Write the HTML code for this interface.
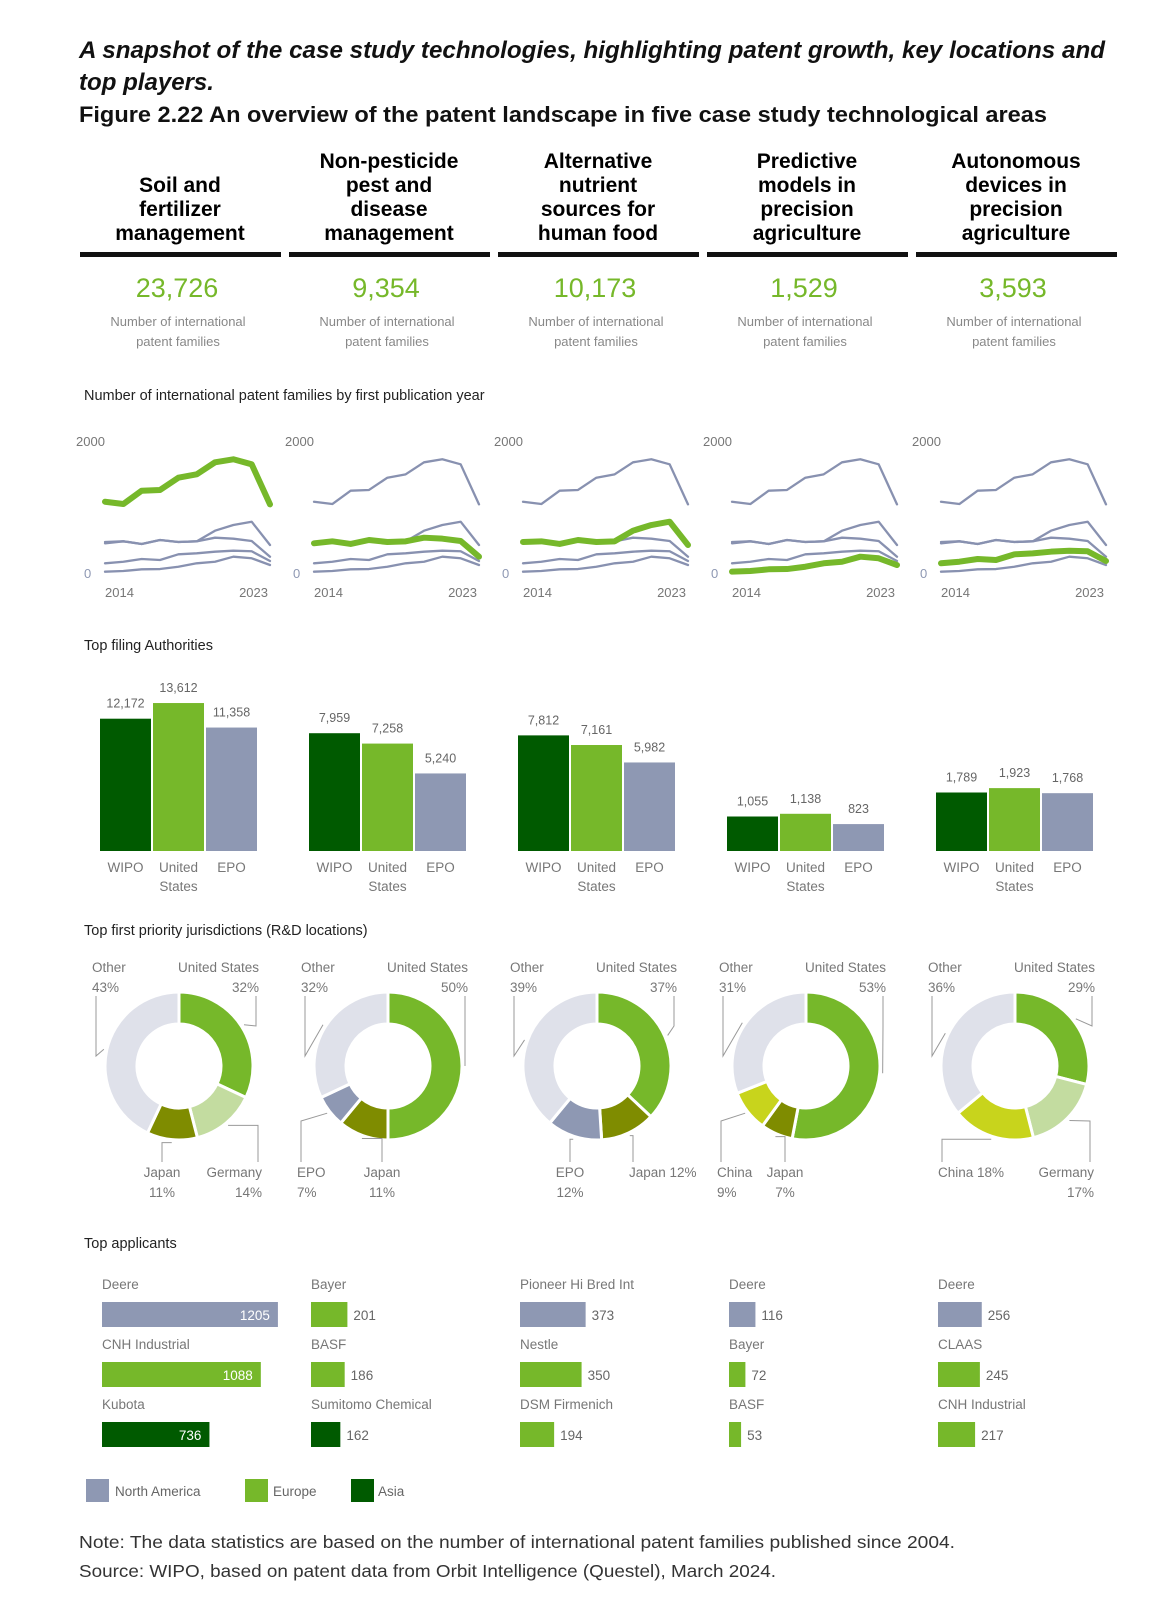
<!DOCTYPE html>
<html><head><meta charset="utf-8"><style>
body{margin:0;background:#fff;width:1174px;height:1620px;overflow:hidden;font-family:"Liberation Sans",sans-serif;}
svg{position:absolute;left:0;top:0}
</style></head><body>
<svg id="s" width="1174" height="1620">
<text x="79" y="58" font-size="24" font-style="italic" font-weight="bold" fill="#111" textLength="1026" lengthAdjust="spacingAndGlyphs">A snapshot of the case study technologies, highlighting patent growth, key locations and</text>
<text x="79" y="90" font-size="24" font-style="italic" font-weight="bold" fill="#111" textLength="135" lengthAdjust="spacingAndGlyphs">top players.</text>
<text x="79" y="122" font-size="22" font-weight="bold" fill="#111" textLength="968" lengthAdjust="spacingAndGlyphs">Figure 2.22 An overview of the patent landscape in five case study technological areas</text>
<text x="84" y="400" font-size="14.5" fill="#222">Number of international patent families by first publication year</text>
<text x="84" y="650" font-size="14.5" fill="#222">Top filing Authorities</text>
<text x="84" y="935" font-size="14.5" fill="#222">Top first priority jurisdictions (R&amp;D locations)</text>
<text x="84" y="1248" font-size="14.5" fill="#222">Top applicants</text>
<g>
<rect x="86" y="1479" width="23" height="23" fill="#8e98b3"/>
<text x="115" y="1496" font-size="13.5" fill="#666">North America</text>
<rect x="245" y="1479" width="23" height="23" fill="#76b82a"/>
<text x="273" y="1496" font-size="13.5" fill="#666">Europe</text>
<rect x="351" y="1479" width="23" height="23" fill="#005a00"/>
<text x="378" y="1496" font-size="13.5" fill="#666">Asia</text>
</g>
<text x="79" y="1548" font-size="17.5" fill="#333" textLength="876" lengthAdjust="spacingAndGlyphs">Note: The data statistics are based on the number of international patent families published since 2004.</text>
<text x="79" y="1577" font-size="17.5" fill="#333" textLength="697" lengthAdjust="spacingAndGlyphs">Source: WIPO, based on patent data from Orbit Intelligence (Questel), March 2024.</text>
</svg>
<script>
const techNames=[["Soil and","fertilizer","management"],["Non-pesticide","pest and","disease","management"],["Alternative","nutrient","sources for","human food"],["Predictive","models in","precision","agriculture"],["Autonomous","devices in","precision","agriculture"]];
const totals=["23,726","9,354","10,173","1,529","3,593"];
const years=[2014,2015,2016,2017,2018,2019,2020,2021,2022,2023];
const seriesSoil=[1080,1045,1247,1258,1444,1495,1677,1723,1647,1040];
const seriesPest=[450,480,440,500,470,480,535,520,485,247];
const seriesNutrient=[470,480,440,500,470,480,641,727,777,424];
const seriesPredictive=[20,30,56,60,95,147,171,247,223,121];
const seriesAutonomous=[147,171,212,197,283,298,323,338,329,182];
const allSeries=[seriesSoil,seriesPest,seriesNutrient,seriesPredictive,seriesAutonomous];
const lineMax=2000;
const authorities=["WIPO","United States","EPO"];
const authValues=[[12172,13612,11358],[7959,7258,5240],[7812,7161,5982],[1055,1138,823],[1789,1923,1768]];
const authAxisMax=[13800,10135,10135,4587,4587];
const donutLabels=[["United States","Germany","Japan","Other"],["United States","Japan","EPO","Other"],["United States","Japan","EPO","Other"],["United States","Japan","China","Other"],["United States","Germany","China","Other"]];
const donutValues=[[32,14,11,43],[50,11,7,32],[37,12,12,39],[53,7,9,31],[29,17,18,36]];
const applicantNames=[["Deere","CNH Industrial","Kubota"],["Bayer","BASF","Sumitomo Chemical"],["Pioneer Hi Bred Int","Nestle","DSM Firmenich"],["Deere","Bayer","BASF"],["Deere","CLAAS","CNH Industrial"]];
const applicantValues=[[1205,1088,736],[201,186,162],[373,350,194],[116,72,53],[256,245,217]];
const applicantRegion=[["NA","EU","AS"],["EU","EU","AS"],["NA","EU","EU"],["NA","EU","EU"],["NA","EU","EU"]];
const applicantAxisMax=[1233,994,1023,790,1053];

// layout: bottom donut label placement per panel (offset from centre, anchor, single-line)
const bottomPlacement=[
 [[-17,'middle',false],[83,'end',false]].reverse(),
 [[-6,'middle',false],[-91,'start',false]],
 [[32,'start',true],[-27,'middle',false]],
 [[-21,'middle',false],[-89,'start',false]],
 [[79,'end',false],[-77,'start',true]]
];

const S=document.getElementById('s'),NS="http://www.w3.org/2000/svg";
function mk(tag,attrs,parent,txt){const e=document.createElementNS(NS,tag);for(const k in attrs)e.setAttribute(k,attrs[k]);if(txt!==undefined)e.textContent=txt;(parent||S).appendChild(e);return e;}
const colLeft=i=>80+i*209;
const regionColor={NA:"#8e98b3",EU:"#76b82a",AS:"#005a00"};
const donutColor={"United States":"#76b82a","Germany":"#c3dca0","Japan":"#7f8c00","China":"#c8d41c","EPO":"#8e98b3","Other":"#dfe1ea"};

for(let i=0;i<5;i++){
  const L=colLeft(i),C=L+100;
  const g=mk('g',{});
  
  
  const nm=techNames[i];
  nm.forEach((t,j)=>{const e=mk('text',{x:C,y:240-(nm.length-1-j)*24,'font-size':21,'font-weight':'bold','text-anchor':'middle',fill:'#000'},g,t);
    });
  const r=mk('rect',{x:L,y:252,width:201,height:5,fill:'#111'},g);
  
  const tn=mk('text',{x:C-3,y:297,'font-size':27,'text-anchor':'middle',fill:'#76b82a'},g,totals[i]);
  
  ['Number of international','patent families'].forEach((t,j)=>{const e=mk('text',{x:C-2,y:326+j*20,'font-size':13,'text-anchor':'middle',fill:'#888'},g,t);
    });

  const lg=mk('g',{});
  
  
  const x0=L+25,x1=L+190;
  const xs=k=>x0+(x1-x0)*k/(years.length-1);
  const ys=v=>573-v/lineMax*132;
  [[lineMax,ys(lineMax)],[0,ys(0)]].forEach(([v,y])=>{const e=mk('text',{x:v?L-4:L+4,y:y+5,'font-size':13,fill:v?'#777':'#8e98b3'},lg,String(v));
    });
  const t1=mk('text',{x:x0,y:597,'font-size':13,fill:'#777'},lg,String(years[0]));
  
  const t2=mk('text',{x:x1-2,y:597,'font-size':13,fill:'#777','text-anchor':'end'},lg,String(years[years.length-1]));
  
  const order=[0,1,2,3,4].filter(k=>k!==i).concat([i]);
  order.forEach(k=>{const hl=k===i;
    const p=mk('polyline',{points:allSeries[k].map((v,j)=>xs(j)+','+ys(v)).join(' '),fill:'none',stroke:hl?'#76b82a':'#8891b0','stroke-width':hl?6:2.3,'stroke-linejoin':'round','stroke-linecap':'round'},lg);
    });

  const bg=mk('g',{});
  
  
  const base=851,H=150,bw=51;
  authValues[i].forEach((v,j)=>{const h=v/authAxisMax[i]*H,bx=L+20+j*53;
    const b=mk('rect',{x:bx,y:base-h,width:bw,height:h,fill:['#005a00','#76b82a','#8e98b3'][j]},bg);
    
    const vl=mk('text',{x:bx+bw/2,y:base-h-11,'font-size':12.5,'text-anchor':'middle',fill:'#666'},bg,v.toLocaleString('en-US'));
    
    authorities[j].split(' ').forEach((w,q)=>{const e=mk('text',{x:bx+bw/2,y:872+q*19,'font-size':13.5,'text-anchor':'middle',fill:'#777'},bg,w);
      });
  });

  const dg=mk('g',{});
  
  
  const cx=179+i*209,cy=1066,Ro=74,Ri=42;
  const tot=donutValues[i].reduce((a,b)=>a+b,0);
  const n=donutValues[i].length;
  let acc=0;
  donutValues[i].forEach((v,j)=>{const a0=acc/tot*2*Math.PI,a1=(acc+v)/tot*2*Math.PI;acc+=v;
    const P=(r,a)=>[cx+r*Math.sin(a),cy-r*Math.cos(a)];
    const [ax,ay]=P(Ro,a0),[bx,by]=P(Ro,a1),[cx2,cy2]=P(Ri,a1),[dx,dy]=P(Ri,a0);
    const lf=(a1-a0)>Math.PI?1:0;
    const lab=donutLabels[i][j];
    const p=mk('path',{d:`M${ax},${ay}A${Ro},${Ro} 0 ${lf} 1 ${bx},${by}L${cx2},${cy2}A${Ri},${Ri} 0 ${lf} 0 ${dx},${dy}Z`,fill:donutColor[lab],stroke:'#fff','stroke-width':3},dg);
    
    const mid=(a0+a1)/2;
    const [mx,my]=P(Ro+3,mid);
    let tx,ty,anchor,inline=false,pts;
    if(j===n-1){tx=cx-87;ty=972;anchor='start';pts=`${cx-83},${ty+24} ${cx-83},${cy-10} ${mx},${my}`;}
    else if(j===0){tx=cx+80;ty=972;anchor='end';pts=`${cx+77},${ty+24} ${cx+77},${cy-40} ${mx},${my}`;}
    else {const pl=bottomPlacement[i][j-1];tx=cx+pl[0];anchor=pl[1];inline=pl[2];ty=1177;
      const lx=anchor==='middle'?tx:(anchor==='start'?tx+4:tx-4);
      pts=inline?`${mx},${my} ${lx},${my} ${lx},${ty-15}`:`${mx},${my} ${lx},${Math.max(my,cy+55)} ${lx},${ty-15}`;}
    const ln=mk('polyline',{points:pts,fill:'none',stroke:'#999','stroke-width':1},dg);
    
    const e1=mk('text',{x:tx,y:ty,'font-size':13.5,'text-anchor':anchor,fill:'#777'},dg,inline?lab+' '+v+'%':lab);
    
    if(!inline){const e2=mk('text',{x:tx,y:ty+20,'font-size':13.5,'text-anchor':anchor,fill:'#777'},dg,v+'%');
    }
  });

  const ag=mk('g',{});
  
  
  applicantNames[i].forEach((nme,j)=>{const y0=1284+j*60,bx=L+22;
    const e=mk('text',{x:bx,y:y0+5,'font-size':13.5,fill:'#777'},ag,nme);
    
    const v=applicantValues[i][j],w=v/applicantAxisMax[i]*180;
    const b=mk('rect',{x:bx,y:y0+18,width:w,height:25,fill:regionColor[applicantRegion[i][j]]},ag);
    
    const inside=w>100;
    const t=mk('text',{x:inside?bx+w-8:bx+w+6,y:y0+36,'font-size':13.5,'text-anchor':inside?'end':'start',fill:inside?'#fff':'#666'},ag,String(v));
    
  });
}
</script>
</body></html>
